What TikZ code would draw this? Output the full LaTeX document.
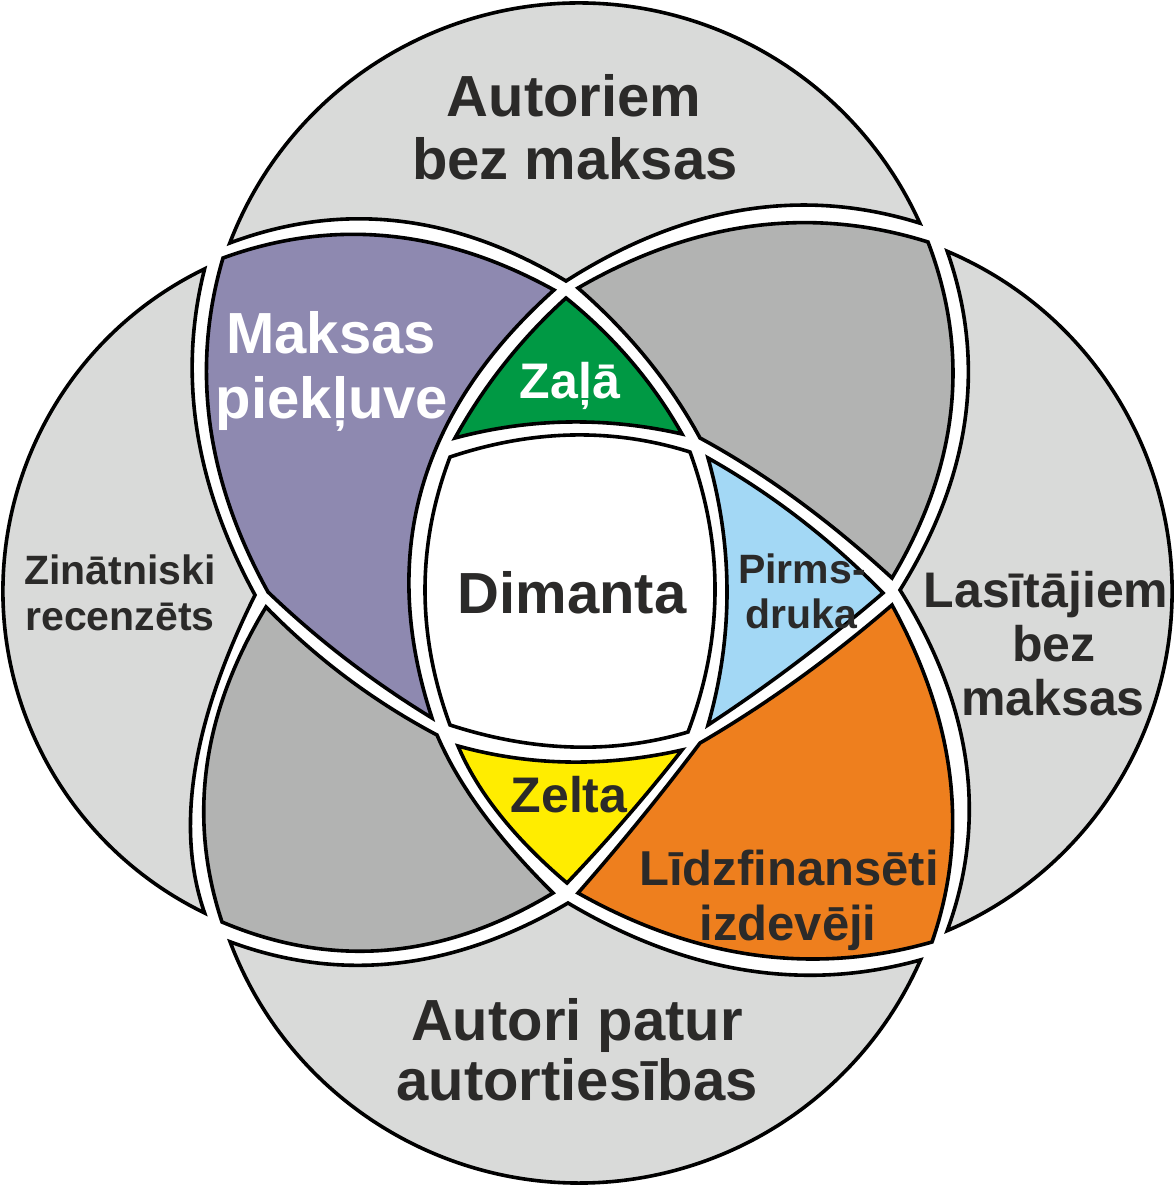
\documentclass[tikz,border=0pt]{standalone}
\usepackage{fontspec}
\setmainfont{Liberation Sans}
\usetikzlibrary{calc}
\definecolor{lgray}{RGB}{217,218,217}
\definecolor{dgray}{RGB}{178,179,178}
\definecolor{purp}{RGB}{142,137,176}
\definecolor{grn}{RGB}{0,153,68}
\definecolor{lblue}{RGB}{163,216,245}
\definecolor{orng}{RGB}{238,127,30}
\definecolor{yell}{RGB}{255,237,0}
\definecolor{txt}{RGB}{43,42,41}
\newcommand{\qc}[3]{.. controls ($1.33333*(#2)-0.33333*(#3)$) and ($1.33333*(#2)-0.33333*(#1)$) .. (#3)}
\newcommand{\fsz}[1]{\fontsize{#1}{#1}\selectfont\bfseries}
\begin{document}
\begin{tikzpicture}[x=1pt,y=-1pt,
  region/.style={draw=black, line width=3.6pt, line join=miter, miter limit=5},
  lbl/.style={anchor=base, inner sep=0pt, text=txt}]
\useasboundingbox (0,0) rectangle (1174,1185);
% outer single-set regions
\path[region, fill=lgray] (229.8,243) arc[start angle=201, end angle=335.7, radius=374]
  \qc{919.9,223.1}{743,210}{566,281} \qc{566,281}{398,221}{229.8,243} -- cycle;
\path[region, fill=lgray] (204.6,268.9) arc[start angle=244.1, end angle=115.9, radius=358]
  \qc{204.6,913.1}{195,770}{255,595} \qc{255,595}{197,430}{204.6,268.9} -- cycle;
\path[region, fill=lgray] (947.2,251.3) arc[start angle=-67, end angle=67, radius=369]
  \qc{947.2,930.7}{966,762}{900,590} \qc{900,590}{965,420}{947.2,251.3} -- cycle;
\path[region, fill=lgray] (230.1,941.8) arc[start angle=159.3, end angle=23.7, radius=373]
  \qc{920.6,959.9}{745,970}{568,903} \qc{568,903}{398,963}{230.1,941.8} -- cycle;
% two-set regions
\path[region, fill=purp] (223,258) \qc{223,258}{388,236}{554,290} \qc{554,290}{422,488}{432,718}
  \qc{432,718}{346,659}{268,592} \qc{268,592}{210,424}{223,258} -- cycle;
\path[region, fill=dgray] (578,288) \qc{578,288}{753,226}{928,242} \qc{928,242}{951,410}{892,578}
  \qc{892,578}{796,499}{700,438} \qc{700,438}{647,359}{578,288} -- cycle;
\path[region, fill=dgray] (266,607) \qc{266,607}{347,678}{437,735} \qc{437,735}{482,812}{553,893}
  \qc{553,893}{388,950}{222,922} \qc{222,922}{207,765}{266,607} -- cycle;
\path[region, fill=orng] (700,743) \qc{700,743}{797,680}{892,605} \qc{892,605}{950,777}{932,942}
  \qc{932,942}{755,955}{578,893} \qc{578,893}{640.5,819}{700,743} -- cycle;
% three-set regions
\path[region, fill=grn] (566,298) \qc{566,298}{631,361}{682,434} \qc{682,434}{568,422}{455,438}
  \qc{455,438}{505,363}{566,298} -- cycle;
\path[region, fill=lblue] (708,458) \qc{708,458}{800,519}{883,593} \qc{883,593}{796,663}{708,725}
  \qc{708,725}{727,592}{708,458} -- cycle;
\path[region, fill=yell] (458,746) \qc{458,746}{568,762}{682,750} \qc{682,750}{626,818}{567,883}
  \qc{567,883}{500,815}{458,746} -- cycle;
% centre
\path[region, fill=white] (450,457) \qc{450,457}{572,435}{690,452} \qc{690,452}{715,592}{688,732}
  \qc{688,732}{572,747}{450,725} \qc{450,725}{425,590}{450,457} -- cycle;
% labels
\node[lbl, font={\fsz{58}}] (t1) at (574,117) {Autoriem};
\node[lbl, font={\fsz{58}}] (t2) at (575,180) {bez maksas};
\node[lbl, font={\fsz{58}}, text=white] (pa1) at (331,353) {Maksas};
\node[lbl, font={\fsz{58}}, text=white] (pa2) at (332,418) {piekļuve};
\node[lbl, font={\fsz{50}}, text=white] (gr) at (570,398) {Zaļā};
\node[lbl, font={\fsz{58}}] (di) at (572,613) {Dimanta};
\node[lbl, font={\fsz{41}}] (pr1) at (802,583) {Pirms-};
\node[lbl, font={\fsz{41}}] (pr2) at (801,628) {druka};
\node[lbl, font={\fsz{50}}] (ze) at (569,812) {Zelta};
\node[lbl, font={\fsz{49}}] (li1) at (789,885) {Līdzfinansēti};
\node[lbl, font={\fsz{49}}] (li2) at (788,940) {izdevēji};
\node[lbl, font={\fsz{41}}] (zi1) at (120,584) {Zinātniski};
\node[lbl, font={\fsz{41}}] (zi2) at (120,630) {recenzēts};
\node[lbl, font={\fsz{50}}] (la1) at (1046,607) {Lasītājiem};
\node[lbl, font={\fsz{50}}] (la2) at (1054,661) {bez};
\node[lbl, font={\fsz{50}}] (la3) at (1053,715) {maksas};
\node[lbl, font={\fsz{58}}] (au1) at (577,1040) {Autori patur};
\node[lbl, font={\fsz{58}}] (au2) at (577,1100) {autortiesības};
\end{tikzpicture}
\end{document}
